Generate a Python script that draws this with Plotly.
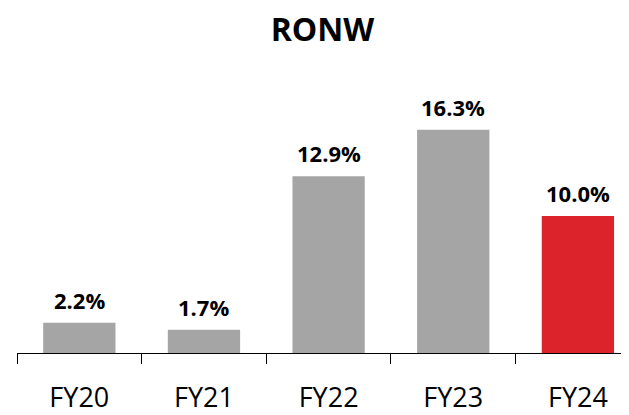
import plotly.graph_objects as go

categories = ["FY20", "FY21", "FY22", "FY23", "FY24"]
values = [2.2, 1.7, 12.9, 16.3, 10.0]
labels = ["2.2%", "1.7%", "12.9%", "16.3%", "10.0%"]
colors = ["#A5A5A5", "#A5A5A5", "#A5A5A5", "#A5A5A5", "#DC232B"]

fig = go.Figure(go.Bar(
    x=categories, y=values,
    marker=dict(color=colors, line=dict(width=0)),
    width=0.58, cliponaxis=False,
))

for c, v, t in zip(categories, values, labels):
    fig.add_annotation(x=c, y=v, text=f"<b>{t}</b>", showarrow=False,
                       xanchor="center", yanchor="bottom", yshift=6,
                       font=dict(family="Open Sans", size=22, color="#000000"))

fig.update_layout(
    width=629, height=415,
    margin=dict(l=9, r=8, t=92, b=70, autoexpand=False),
    paper_bgcolor="white", plot_bgcolor="white",
    showlegend=False,
    title=dict(text="<b>RONW</b>", x=0.5, xanchor="center", y=0.948, yanchor="middle",
               font=dict(family="Open Sans", size=32, color="#000000")),
    xaxis=dict(range=[-0.5, 4.41], showline=True, linecolor="#000000", linewidth=1.3,
               ticks="outside", tickson="boundaries", ticklen=10, tickcolor="#000000",
               tickwidth=1.3, showgrid=False, automargin=False,
               tickfont=dict(family="Open Sans", size=27, color="#000000"),
               ticklabelstandoff=20),
    yaxis=dict(range=[0, 18.47], visible=False, showgrid=False, zeroline=False,
               automargin=False),
)

fig.write_html("out.html")
